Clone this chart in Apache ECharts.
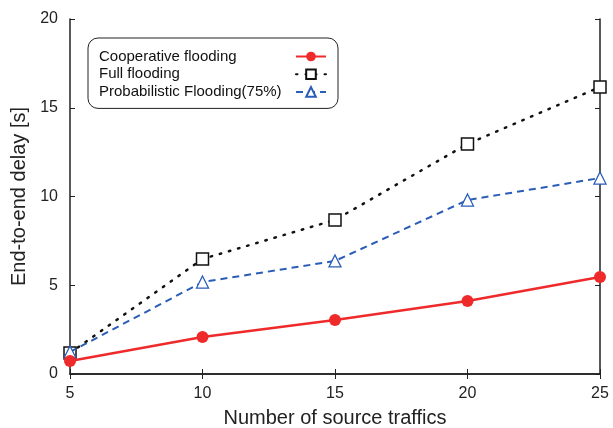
<!DOCTYPE html>
<html><head><meta charset="utf-8">
<script src="https://cdn.jsdelivr.net/npm/echarts@6/dist/echarts.min.js"></script>
<style>html,body{margin:0;padding:0;background:#fff}#c{width:613px;height:428px}</style>
</head><body><div id="c"></div>
<script>
const sourceTraffics = [5, 10, 15, 20, 25];
const cooperative = [0.73, 2.08, 3.04, 4.11, 5.46];
const fullFlooding = [1.18, 6.48, 8.68, 12.96, 16.17];
const probabilistic = [1.24, 5.18, 6.37, 9.8, 11.04];
const seriesNames = ['Cooperative flooding', 'Full flooding', 'Probabilistic Flooding(75%)'];
const xTicks = [5, 10, 15, 20, 25];
const yTicks = [0, 5, 10, 15, 20];

const font = 'Liberation Sans, Arial, Helvetica, sans-serif';
const pair = (vals) => sourceTraffics.map((x, i) => [x, vals[i]]);
const chart = echarts.init(document.getElementById('c'));
const axisLine = { show: true, lineStyle: { color: '#222', width: 1.5 } };
chart.setOption({
  animation: false,
  grid: { left: 70, right: 13, top: 19, bottom: 54, containLabel: false, outerBoundsMode: 'none' },
  legend: {
    orient: 'vertical', left: 88, top: 38,
    align: 'right',
    backgroundColor: '#fff', borderColor: '#222', borderWidth: 1, borderRadius: 10,
    padding: [11, 11, 9, 11],
    itemWidth: 30, itemHeight: 12, itemGap: 2.7,
    formatter: (n) => '{a|' + n + '}',
    textStyle: {
      fontFamily: font, fontSize: 15, color: '#111',
      rich: { a: { width: 192, align: 'left', fontFamily: font, fontSize: 15, lineHeight: 12, color: '#111' } }
    },
    data: seriesNames
  },
  xAxis: [{
    type: 'value', min: xTicks[0], max: xTicks[xTicks.length - 1], interval: 5,
    name: 'Number of source traffics', nameLocation: 'middle', nameGap: 34,
    nameTextStyle: { fontFamily: font, fontSize: 20, color: '#222' },
    axisLine: axisLine, axisTick: { inside: true, length: 5, lineStyle: { color: '#222' } },
    axisLabel: { fontFamily: font, fontSize: 16, color: '#222', margin: 12 },
    splitLine: { show: false }
  }, {
    type: 'value', position: 'top', min: xTicks[0], max: xTicks[xTicks.length - 1], interval: 5,
    axisLine: axisLine, axisTick: { inside: true, length: 5, lineStyle: { color: '#222' } },
    axisLabel: { show: false }, splitLine: { show: false }
  }],
  yAxis: [{
    type: 'value', min: yTicks[0], max: yTicks[yTicks.length - 1], interval: 5,
    name: 'End-to-end delay [s]', nameLocation: 'middle', nameGap: 41,
    nameTextStyle: { fontFamily: font, fontSize: 20, color: '#222' },
    axisLine: axisLine, axisTick: { inside: true, length: 5, lineStyle: { color: '#222' } },
    axisLabel: { fontFamily: font, fontSize: 16, color: '#222', margin: 12 },
    splitLine: { show: false }
  }, {
    type: 'value', position: 'right', min: yTicks[0], max: yTicks[yTicks.length - 1], interval: 5,
    axisLine: axisLine, axisTick: { inside: true, length: 5, lineStyle: { color: '#222' } },
    axisLabel: { show: false }, splitLine: { show: false }
  }],
  series: [
    {
      name: seriesNames[1], type: 'line', data: pair(fullFlooding),
      symbol: 'rect', symbolSize: 12,
      itemStyle: { color: '#fff', borderColor: '#111', borderWidth: 1.5 },
      lineStyle: { color: '#111', width: 2.5, type: [1.5, 8], cap: 'round' },
      z: 3
    },
    {
      name: seriesNames[2], type: 'line', data: pair(probabilistic),
      symbol: 'triangle', symbolSize: 12,
      itemStyle: { color: '#fff', borderColor: '#2a5db8', borderWidth: 1.3 },
      lineStyle: { color: '#2a5db8', width: 2, type: [7, 5] },
      z: 4
    },
    {
      name: seriesNames[0], type: 'line', data: pair(cooperative),
      symbol: 'circle', symbolSize: 12,
      itemStyle: { color: '#ee2a2a' },
      lineStyle: { color: '#ee2a2a', width: 2.5 },
      z: 5
    }
  ]
});
</script></body></html>
